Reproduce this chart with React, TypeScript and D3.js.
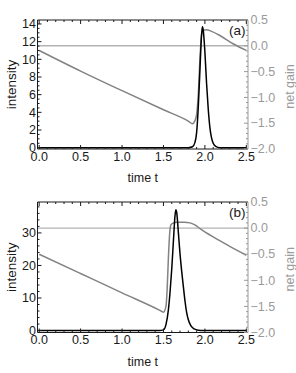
import { useMemo } from 'react';
import { scaleLinear, line, curveMonotoneX, range } from 'd3';

// panel (a)
const A_INT_T = [0, 1.8, 1.85, 1.88, 1.9, 1.92, 1.94, 1.96, 1.97, 1.98, 2.0, 2.02, 2.04, 2.06, 2.08, 2.1, 2.13, 2.18, 2.5];
const A_INT_V = [0, 0, 0.1, 0.6, 1.7, 4.6, 8.8, 12.8, 13.7, 13.3, 10.8, 7.3, 4.4, 2.3, 1.1, 0.5, 0.15, 0, 0];
const A_GAIN_T = [0, 0.5, 1.0, 1.5, 1.8, 1.85, 1.88, 1.9, 1.92, 1.94, 1.96, 1.98, 2.02, 2.08, 2.18, 2.34, 2.5];
const A_GAIN_V = [-0.09, -0.49, -0.87, -1.24, -1.46, -1.51, -1.45, -1.33, -0.95, -0.25, 0.22, 0.3, 0.31, 0.28, 0.2, 0.04, -0.09];

// panel (b)
const B_INT_T = [0, 1.45, 1.5, 1.53, 1.56, 1.58, 1.6, 1.62, 1.64, 1.65, 1.66, 1.68, 1.7, 1.72, 1.74, 1.76, 1.78, 1.8, 1.83, 1.87, 1.92, 1.98, 2.5];
const B_INT_V = [0, 0, 0.2, 1.8, 6.5, 12, 19, 27.5, 35.5, 37.1, 36.2, 30, 23.5, 18.2, 13.5, 9, 5.5, 3.3, 1.5, 0.5, 0.1, 0, 0];
const B_GAIN_T = [0, 0.5, 1.0, 1.45, 1.5, 1.53, 1.545, 1.56, 1.575, 1.59, 1.61, 1.66, 1.75, 1.82, 1.88, 1.95, 2.1, 2.3, 2.5];
const B_GAIN_V = [-0.5, -0.87, -1.24, -1.57, -1.61, -1.5, -1.15, -0.55, -0.1, 0.06, 0.09, 0.11, 0.11, 0.1, 0.06, -0.02, -0.17, -0.35, -0.52];

const X_TICKS = [0, 0.5, 1.0, 1.5, 2.0, 2.5];
const GAIN_TICKS = [0.5, 0, -0.5, -1.0, -1.5, -2.0];
const A_INT_TICKS = [0, 2, 4, 6, 8, 10, 12, 14];
const B_INT_TICKS = [0, 10, 20, 30];

const LEFT = 37.5;
const RIGHT = 248;
const FONT = '"Liberation Sans", Arial, sans-serif';
const GRAY_TXT = '#9a9a9a';
const INK = '#1a1a1a';

const fmt = (v: number) => (v < 0 ? '\u2212' : '') + Math.abs(v).toFixed(1);

interface PanelProps {
  top: number;
  bottom: number;
  label: string;
  intDomain: [number, number];
  intTicks: number[];
  intMinor: number;
  intT: number[];
  intV: number[];
  gainT: number[];
  gainV: number[];
}

function Panel({ top, bottom, label, intDomain, intTicks, intMinor, intT, intV, gainT, gainV }: PanelProps) {
  const x = scaleLinear().domain([-0.02, 2.52]).range([LEFT, RIGHT]);
  const yi = scaleLinear().domain(intDomain).range([bottom, top]);
  const yg = scaleLinear().domain([-2, 0.5]).range([bottom, top]);

  const { intPath, gainPath } = useMemo(() => {
    const li = line<number>()
      .x((_, i) => x(intT[i]))
      .y((v) => yi(v))
      .curve(curveMonotoneX);
    const lg = line<number>()
      .x((_, i) => x(gainT[i]))
      .y((v) => yg(v))
      .curve(curveMonotoneX);
    return { intPath: li(intV) ?? '', gainPath: lg(gainV) ?? '' };
  }, [intT, intV, gainT, gainV]);

  // minor ticks: every 0.1 on time and gain, every intMinor on intensity
  const xMinor = range(0, 2.51, 0.1).filter((t) => Math.abs(t * 2 - Math.round(t * 2)) > 1e-6);
  const gMinor = range(-2, 0.51, 0.1).filter((t) => Math.abs(t * 2 - Math.round(t * 2)) > 1e-6);
  const iMax = intTicks[intTicks.length - 1] + intMinor * 10;
  const iMinor = range(0, iMax, intMinor).filter(
    (v) => !intTicks.some((t) => Math.abs(t - v) < 1e-6) && yi(v) >= top
  );
  const midY = (top + bottom) / 2;

  return (
    <g fontFamily={FONT} fontSize={12.5}>
      <line x1={LEFT} x2={RIGHT} y1={yg(0)} y2={yg(0)} stroke="#b4b4b4" strokeWidth={1.4} />
      <path d={gainPath} fill="none" stroke="#838383" strokeWidth={1.5} />
      <path d={intPath} fill="none" stroke="#000" strokeWidth={1.5} />

      {/* frame */}
      <line x1={LEFT} x2={RIGHT} y1={top} y2={top} stroke={INK} />
      <line x1={LEFT} x2={RIGHT} y1={bottom} y2={bottom} stroke={INK} />
      <line x1={LEFT} x2={LEFT} y1={top} y2={bottom} stroke={INK} />
      <line x1={RIGHT} x2={RIGHT} y1={top} y2={bottom} stroke="#999" />

      {X_TICKS.map((t) => (
        <g key={`x${t}`}>
          <line x1={x(t)} x2={x(t)} y1={bottom} y2={bottom - 4} stroke={INK} />
          <line x1={x(t)} x2={x(t)} y1={top} y2={top + 4} stroke={INK} />
          <text x={x(t)} y={bottom + 11.5} textAnchor="middle" fill={INK}>
            {t.toFixed(1)}
          </text>
        </g>
      ))}
      {xMinor.map((t) => (
        <g key={`xm${t}`}>
          <line x1={x(t)} x2={x(t)} y1={bottom} y2={bottom - 2} stroke={INK} />
          <line x1={x(t)} x2={x(t)} y1={top} y2={top + 2} stroke={INK} />
        </g>
      ))}

      {intTicks.map((v) => (
        <g key={`i${v}`}>
          <line x1={LEFT} x2={LEFT + 4} y1={yi(v)} y2={yi(v)} stroke={INK} />
          <text x={LEFT - 1.5} y={yi(v)} dy="0.34em" textAnchor="end" fill={INK}>
            {v}
          </text>
        </g>
      ))}
      {iMinor.map((v) => (
        <line key={`im${v}`} x1={LEFT} x2={LEFT + 2} y1={yi(v)} y2={yi(v)} stroke={INK} />
      ))}

      {GAIN_TICKS.map((v) => (
        <g key={`g${v}`}>
          <line x1={RIGHT} x2={RIGHT - 4} y1={yg(v)} y2={yg(v)} stroke="#999" />
          <text x={RIGHT + 2.5} y={yg(v)} dy="0.34em" fill={GRAY_TXT}>
            {fmt(v)}
          </text>
        </g>
      ))}
      {gMinor.map((v) => (
        <line key={`gm${v}`} x1={RIGHT} x2={RIGHT - 2} y1={yg(v)} y2={yg(v)} stroke="#999" />
      ))}

      <text x={245.5} y={top + 15} textAnchor="end" fill={INK} fontSize={13.5}>
        {label}
      </text>
      <text x={(LEFT + RIGHT) / 2} y={bottom + 33} textAnchor="middle" fill={INK}>
        time t
      </text>
      <text transform={`translate(16,${midY}) rotate(-90)`} textAnchor="middle" fill={INK} fontSize={13.5}>
        intensity
      </text>
      <text transform={`translate(294,${midY + 2}) rotate(-90)`} textAnchor="middle" fill={GRAY_TXT}>
        net gain
      </text>
    </g>
  );
}

export default function App() {
  return (
    <svg width={296} height={373} style={{ position: 'absolute', left: 0, top: 0, background: '#fff' }}>
      <Panel
        top={20}
        bottom={149}
        label="(a)"
        intDomain={[-0.15, 14.45]}
        intTicks={A_INT_TICKS}
        intMinor={0.5}
        intT={A_INT_T}
        intV={A_INT_V}
        gainT={A_GAIN_T}
        gainV={A_GAIN_V}
      />
      <Panel
        top={202}
        bottom={332.5}
        label="(b)"
        intDomain={[-0.6, 39.5]}
        intTicks={B_INT_TICKS}
        intMinor={2}
        intT={B_INT_T}
        intV={B_INT_V}
        gainT={B_GAIN_T}
        gainV={B_GAIN_V}
      />
    </svg>
  );
}
